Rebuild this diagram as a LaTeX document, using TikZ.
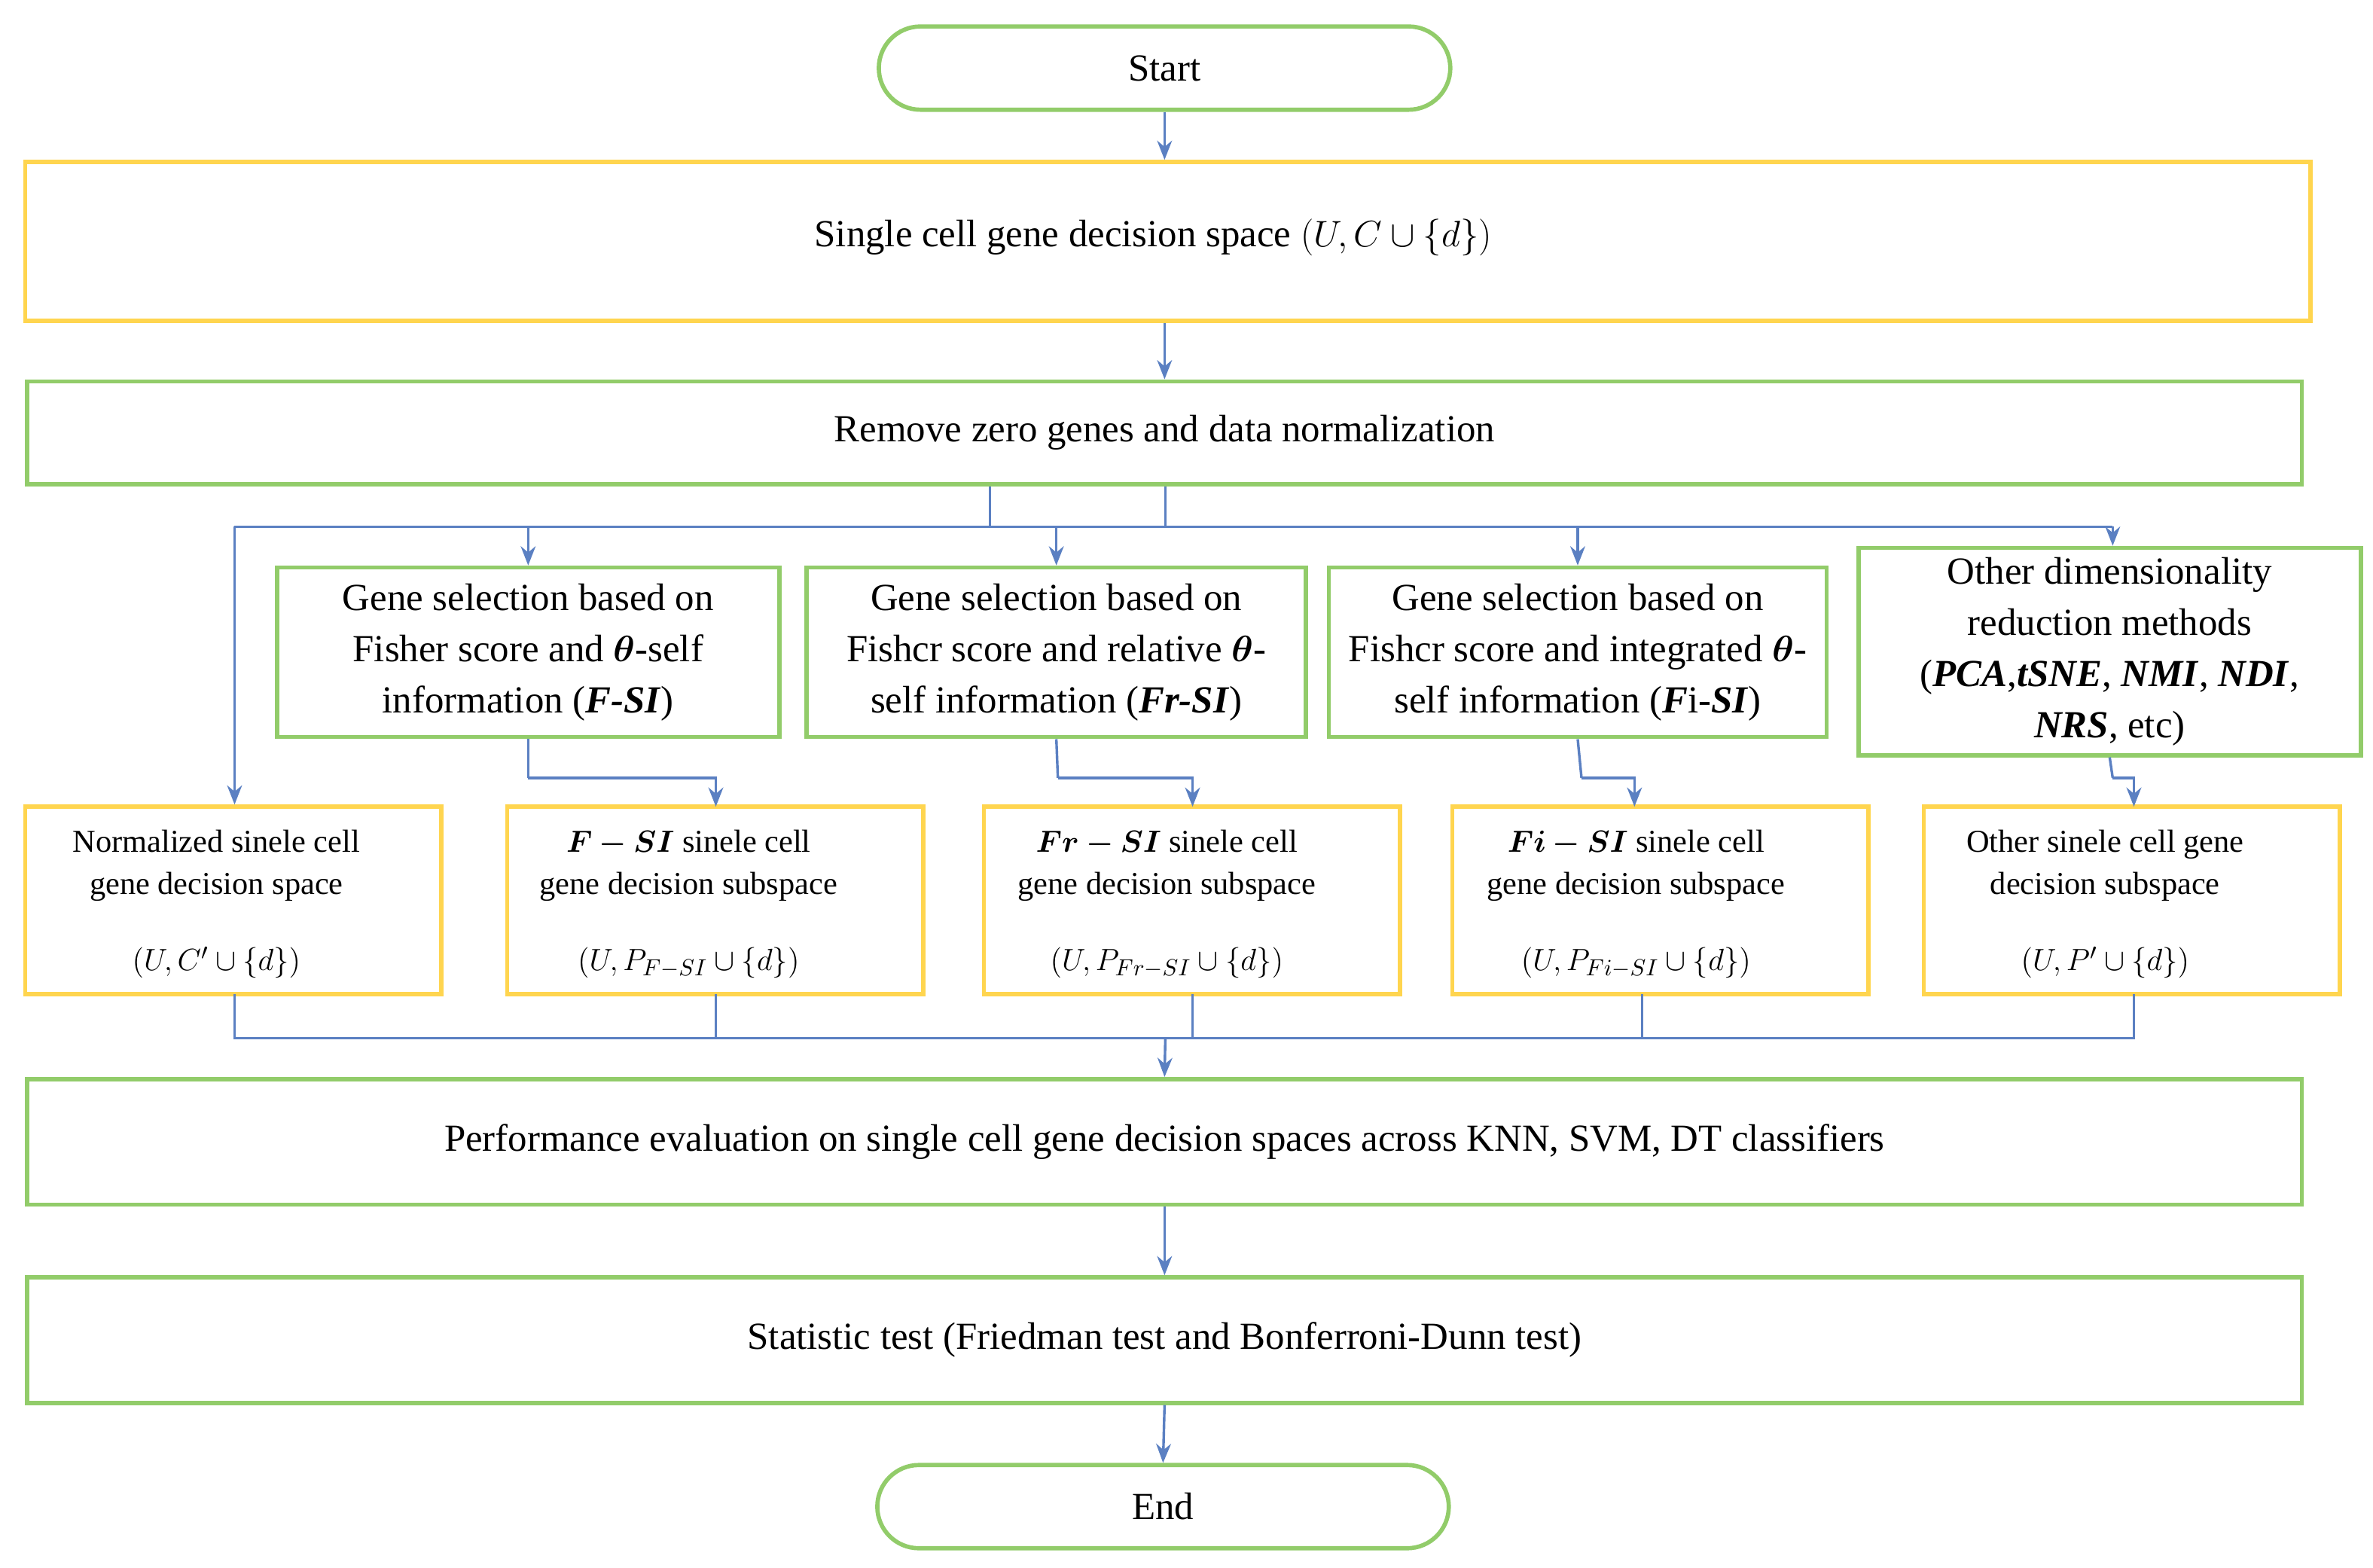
\documentclass[tikz,border=0pt]{standalone}
\usepackage{fontspec}
\usepackage{amsmath,bm}
\setmainfont{Liberation Serif}
\usetikzlibrary{shapes.geometric,shapes.misc,arrows.meta}
\definecolor{gr}{HTML}{92CC6A}
\definecolor{ye}{HTML}{FFD54F}
\definecolor{bl}{HTML}{5B80C2}
\begin{document}
\begin{tikzpicture}[x=0.025cm,y=0.025cm,
  box/.style={draw=gr,line width=2pt,rectangle,inner sep=0pt,font=\fontsize{18}{24}\selectfont,align=center},
  term/.style={draw=gr,line width=2pt,rounded rectangle,minimum width=387*0.025cm,minimum height=55*0.025cm,font=\fontsize{18}{24}\selectfont},
  cyl/.style={draw=ye,line width=2pt,cylinder,shape aspect=0.34,minimum height=275*0.025cm,minimum width=124*0.025cm,inner sep=0pt,font=\fontsize{15}{20}\selectfont,align=center},
  arr/.style={draw=bl,line width=1.2pt,-{Stealth[length=9pt,width=7pt]}},
  ln/.style={draw=bl,line width=1.2pt}]
\useasboundingbox (0,0) rectangle (1568,-1036);
\node[term] (start) at (769.5,-45) {Start};
\node[cyl,minimum height=1510*0.025cm,minimum width=105*0.025cm,shape aspect=0.4,font=\fontsize{18}{24}\selectfont] (sp) at (771,-159.5) {};
\node[font=\fontsize{18}{24}\selectfont] at (762,-157) {Single cell gene decision space $(U,C\cup\{d\})$};
\node[box,minimum width=1503*0.025cm,minimum height=68*0.025cm] (rm) at (769.5,-286) {Remove zero genes and data normalization};
\node[box,minimum width=332*0.025cm,minimum height=112*0.025cm] (b1) at (349,-431) {Gene selection based on\\Fisher score and $\bm{\theta}$-self\\information (\textbf{\textit{F-SI}})};
\node[box,minimum width=330*0.025cm,minimum height=112*0.025cm] (b2) at (698,-431) {Gene selection based on\\Fishcr score and relative $\bm{\theta}$-\\self information (\textbf{\textit{Fr-SI}})};
\node[box,minimum width=329*0.025cm,minimum height=112*0.025cm] (b3) at (1042.5,-431) {Gene selection based on\\Fishcr score and integrated $\bm{\theta}$-\\self information (\textbf{\textit{F}}i-\textbf{\textit{SI}})};
\node[box,minimum width=332*0.025cm,minimum height=137*0.025cm] (b4) at (1394,-430.5) {Other dimensionality\\reduction methods\\(\textbf{\textit{PCA}},\textbf{\textit{tSNE}}, \textbf{\textit{NMI}}, \textbf{\textit{NDI}},\\\textbf{\textit{NRS}}, etc)};
\node[cyl] (c1) at (153.5,-595) {};
\node[cyl] (c2) at (472,-595) {};
\node[cyl] (c3) at (787,-595) {};
\node[cyl] (c4) at (1096.5,-595) {};
\node[cyl] (c5) at (1408,-595) {};
\node[font=\fontsize{15}{20}\selectfont,align=center] (t1) at (143,-572) {Normalized sinele cell\\gene decision space};
\node[font=\fontsize{15}{20}\selectfont] (m1) at (143,-636) {$(U,C'\cup\{d\})$};
\node[font=\fontsize{15}{20}\selectfont,align=center] (t2) at (455,-572) {$\bm{F-SI}$ sinele cell\\gene decision subspace};
\node[font=\fontsize{15}{20}\selectfont] (m2) at (455,-636) {$(U,P_{F-SI}\cup\{d\})$};
\node[font=\fontsize{15}{20}\selectfont,align=center] (t3) at (771,-572) {$\bm{Fr-SI}$ sinele cell\\gene decision subspace};
\node[font=\fontsize{15}{20}\selectfont] (m3) at (771,-636) {$(U,P_{Fr-SI}\cup\{d\})$};
\node[font=\fontsize{15}{20}\selectfont,align=center] (t4) at (1081,-572) {$\bm{Fi-SI}$ sinele cell\\gene decision subspace};
\node[font=\fontsize{15}{20}\selectfont] (m4) at (1081,-636) {$(U,P_{Fi-SI}\cup\{d\})$};
\node[font=\fontsize{15}{20}\selectfont,align=center] (t5) at (1391,-572) {Other sinele cell gene\\decision subspace};
\node[font=\fontsize{15}{20}\selectfont] (m5) at (1391,-636) {$(U,P'\cup\{d\})$};
\node[box,minimum width=1503*0.025cm,minimum height=83*0.025cm] (pe) at (769.5,-754.5) {Performance evaluation on single cell gene decision spaces across KNN, SVM, DT classifiers};
\node[box,minimum width=1503*0.025cm,minimum height=83*0.025cm] (st) at (769.5,-885.5) {Statistic test (Friedman test and Bonferroni-Dunn test)};
\node[term] (end) at (768.5,-995.5) {End};
% connectors
\coordinate (j1) at (654,-348);
\coordinate (j2) at (770,-348);
\coordinate (jl) at (155,-348);
\coordinate (jr) at (1396,-348);
\coordinate (k1) at (349,-514);
\coordinate (k2) at (699,-514);
\coordinate (k3) at (1045,-514);
\coordinate (k4) at (1396,-514);
\coordinate (bl) at (155,-686);
\coordinate (br) at (1410,-686);
\coordinate (bm) at (770,-686);
\draw[arr] (start.south) -- (start.south |- sp.north);
\draw[arr] (sp.south -| rm.north) -- (rm.north);
\draw[ln] (rm.south -| j1) -- (j1);
\draw[ln] (rm.south -| j2) -- (j2);
\draw[ln] (jl) -- (jr);
\draw[arr] (jl) -- (jl |- c1.before top);
\draw[arr] (b1.north |- jl) -- (b1.north);
\draw[arr] (b2.north |- jl) -- (b2.north);
\draw[arr] (b3.north |- jl) -- (b3.north);
\draw[arr] (jr) -- (jr |- b4.north);
\draw[ln] (b1.south) -- (k1);
\draw[arr] (k1) -- (473,-514) -- (473,-533);
\draw[ln] (b2.south) -- (k2);
\draw[arr] (k2) -- (788,-514) -- (788,-533);
\draw[ln] (b3.south) -- (k3);
\draw[arr] (k3) -- (1080,-514) -- (1080,-533);
\draw[ln] (b4.south) -- (k4);
\draw[arr] (k4) -- (1410,-514) -- (1410,-533);
\draw[ln] (155,-657) -- (bl) -- (br) -- (1410,-657);
\draw[ln] (473,-657) -- (473,-686);
\draw[ln] (788,-657) -- (788,-686);
\draw[ln] (1085,-657) -- (1085,-686);
\draw[arr] (bm) -- (pe.north);
\draw[arr] (pe.south) -- (st.north);
\draw[arr] (st.south) -- (end.north);
\end{tikzpicture}
\end{document}
